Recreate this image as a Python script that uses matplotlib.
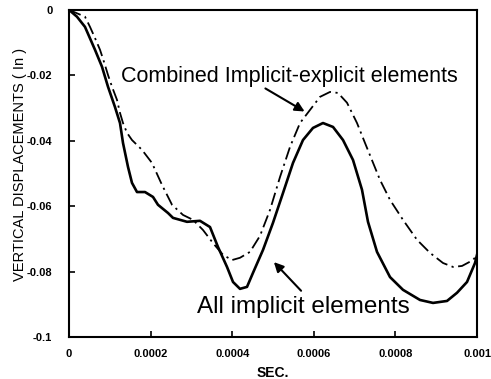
import numpy as np
import matplotlib.pyplot as plt

plt.rcParams['font.family'] = ['Liberation Sans', 'DejaVu Sans']

# time in units of 1e-4 s, displacement in inches
# All implicit elements (solid)
t_impl = [0, 0.196, 0.392, 0.637, 0.809, 0.956, 1.127, 1.250, 1.324, 1.446,
          1.544, 1.667, 1.863, 2.059, 2.181, 2.426, 2.549, 2.892, 3.211, 3.456,
          3.652, 3.873, 4.020, 4.191, 4.363, 4.510, 4.755, 5.000, 5.245, 5.490,
          5.735, 5.980, 6.225, 6.471, 6.716, 6.961, 7.181, 7.328, 7.549, 7.868,
          8.186, 8.603, 8.922, 9.265, 9.510, 9.755, 9.951, 10.0]
d_impl = [0, -0.0021, -0.0052, -0.0122, -0.0174, -0.0235, -0.0297, -0.0346, -0.0407, -0.0480,
          -0.0529, -0.0557, -0.0557, -0.0572, -0.0596, -0.0621, -0.0636, -0.0648, -0.0645, -0.0664,
          -0.0725, -0.0786, -0.0832, -0.0853, -0.0847, -0.0804, -0.0734, -0.0651, -0.0560, -0.0468,
          -0.0398, -0.0361, -0.0346, -0.0358, -0.0398, -0.0459, -0.0550, -0.0648, -0.0740, -0.0817,
          -0.0856, -0.0887, -0.0896, -0.0890, -0.0865, -0.0832, -0.0774, -0.0749]

# Combined implicit-explicit elements (dash-dot)
t_comb = [0, 0.392, 0.515, 0.637, 0.760, 0.858, 0.956, 1.054, 1.176, 1.250,
          1.324, 1.422, 1.544, 1.789, 2.034, 2.279, 2.525, 2.794, 3.039, 3.284,
          3.529, 3.775, 3.995, 4.191, 4.436, 4.681, 4.926, 5.172, 5.417, 5.662,
          5.907, 6.152, 6.397, 6.593, 6.814, 7.059, 7.255, 7.623, 7.868, 8.186,
          8.529, 8.848, 9.167, 9.412, 9.632, 9.902, 10.0]
d_comb = [0, -0.0021, -0.0052, -0.0086, -0.0122, -0.0159, -0.0199, -0.0235, -0.0275, -0.0315,
          -0.0346, -0.0376, -0.0398, -0.0428, -0.0468, -0.0535, -0.0596, -0.0627, -0.0642, -0.0673,
          -0.0713, -0.0749, -0.0765, -0.0758, -0.0740, -0.0691, -0.0612, -0.0511, -0.0419, -0.0346,
          -0.0306, -0.0266, -0.0251, -0.0254, -0.0284, -0.0346, -0.0407, -0.0520, -0.0581, -0.0642,
          -0.0703, -0.0743, -0.0774, -0.0786, -0.0783, -0.0765, -0.0749]

xticks = [0, 0.0002, 0.0004, 0.0006, 0.0008, 0.001]
xtick_labels = ['0', '0.0002', '0.0004', '0.0006', '0.0008', '0.001']
yticks = [0, -0.02, -0.04, -0.06, -0.08, -0.1]
ytick_labels = ['0', '-0.02', '-0.04', '-0.06', '-0.08', '-0.1']

fig = plt.figure(figsize=(4.91, 3.79), dpi=100)
ax = fig.add_axes([0.1405, 0.111, 0.831, 0.863])

ax.plot(np.array(t_impl) * 1e-4, d_impl, color='black', lw=1.9)
ax.plot(np.array(t_comb) * 1e-4, d_comb, color='black', lw=1.3, linestyle=(0, (7, 2.5, 1.2, 2.5)))

ax.set_xlim(0, 0.001)
ax.set_ylim(-0.1, 0)
ax.set_xticks(xticks)
ax.set_xticklabels(xtick_labels, fontsize=8, fontweight='bold')
ax.set_yticks(yticks)
ax.set_yticklabels(ytick_labels, fontsize=8, fontweight='bold')
ax.tick_params(axis='x', direction='in', length=4, width=1.2, pad=9)
ax.tick_params(axis='y', direction='in', length=4, width=1.2, pad=12)
for s in ax.spines.values():
    s.set_linewidth(1.5)

ax.set_xlabel('SEC.', fontsize=10, fontweight='bold', labelpad=5)
ax.set_ylabel('VERTICAL DISPLACEMENTS ( In )', fontsize=10.5, fontweight='medium')
ax.yaxis.set_label_coords(-0.102, 0.526)

ax.annotate('', xy=(5.833e-4, -0.0315), xytext=(4.755e-4, -0.0236),
            arrowprops=dict(arrowstyle='-|>', color='black', lw=1.5, mutation_scale=14))
ax.text(1.275e-4, -0.0205, 'Combined Implicit-explicit elements', fontsize=15.5,
        ha='left', va='center')

ax.annotate('', xy=(4.975e-4, -0.0765), xytext=(5.735e-4, -0.0865),
            arrowprops=dict(arrowstyle='-|>', color='black', lw=1.5, mutation_scale=14))
ax.text(3.137e-4, -0.0908, 'All implicit elements', fontsize=17.5,
        ha='left', va='center')

fig.savefig('out.png', dpi=100)
